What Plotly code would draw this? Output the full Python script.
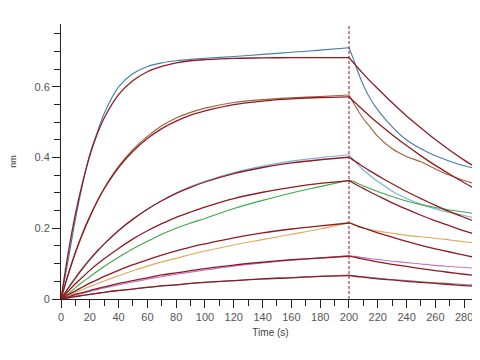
import plotly.graph_objects as go

# Time points (s)
t_assoc = [0, 5, 10, 15, 20, 25, 30, 40, 50, 60, 70, 80, 90, 100, 120, 140, 160, 180, 200]
t_diss = [203, 206, 210, 215, 220, 230, 240, 250, 260, 270, 280, 291]

# Measured (raw) curves, association then dissociation
data1 = [0, 0.11, 0.225, 0.325, 0.41, 0.47, 0.525, 0.60, 0.638, 0.658, 0.668, 0.674, 0.678, 0.681, 0.686, 0.692, 0.698, 0.704, 0.711,
         0.68, 0.645, 0.605, 0.565, 0.535, 0.487, 0.450, 0.425, 0.405, 0.39, 0.377, 0.366]
data2 = [0, 0.068, 0.13, 0.184, 0.232, 0.275, 0.313, 0.375, 0.423, 0.46, 0.49, 0.512, 0.528, 0.540, 0.556, 0.564, 0.569, 0.573, 0.577,
         0.555, 0.535, 0.51, 0.485, 0.46, 0.425, 0.403, 0.388, 0.368, 0.35, 0.335, 0.322]
data3 = [0, 0.03, 0.058, 0.085, 0.11, 0.133, 0.155, 0.193, 0.226, 0.254, 0.279, 0.300, 0.318, 0.333, 0.358, 0.376, 0.390, 0.400, 0.408,
         0.395, 0.381, 0.365, 0.348, 0.333, 0.305, 0.284, 0.268, 0.255, 0.245, 0.236, 0.226]
data4 = [0, 0.015, 0.032, 0.048, 0.063, 0.078, 0.092, 0.118, 0.142, 0.163, 0.183, 0.200, 0.215, 0.228, 0.256, 0.279, 0.300, 0.318, 0.336,
         0.333, 0.327, 0.32, 0.312, 0.304, 0.29, 0.277, 0.267, 0.259, 0.252, 0.246, 0.239]
data5 = [0, 0.009, 0.018, 0.027, 0.035, 0.043, 0.051, 0.066, 0.080, 0.093, 0.105, 0.115, 0.126, 0.136, 0.153, 0.168, 0.183, 0.198, 0.216,
         0.212, 0.206, 0.2, 0.196, 0.192, 0.186, 0.18, 0.176, 0.172, 0.167, 0.162, 0.157]
data6 = [0, 0.005, 0.011, 0.016, 0.021, 0.026, 0.031, 0.040, 0.048, 0.056, 0.063, 0.070, 0.076, 0.082, 0.093, 0.102, 0.110, 0.116, 0.123,
         0.121, 0.12, 0.117, 0.114, 0.112, 0.107, 0.103, 0.099, 0.095, 0.092, 0.089, 0.086]
data7 = [0, 0.003, 0.007, 0.010, 0.013, 0.016, 0.019, 0.024, 0.028, 0.033, 0.037, 0.040, 0.044, 0.047, 0.052, 0.057, 0.061, 0.064, 0.068,
         0.066, 0.065, 0.063, 0.061, 0.059, 0.055, 0.052, 0.049, 0.046, 0.044, 0.041, 0.039]

# Fitted curves
fit1 = [0, 0.13, 0.24, 0.33, 0.405, 0.465, 0.512, 0.578, 0.618, 0.643, 0.658, 0.668, 0.674, 0.677, 0.681, 0.682, 0.683, 0.683, 0.683,
        0.669, 0.655, 0.637, 0.615, 0.595, 0.555, 0.518, 0.484, 0.451, 0.421, 0.393, 0.365]
fit2 = [0, 0.070, 0.132, 0.186, 0.233, 0.275, 0.312, 0.372, 0.418, 0.454, 0.482, 0.503, 0.520, 0.532, 0.550, 0.560, 0.566, 0.570, 0.572,
        0.560, 0.549, 0.534, 0.515, 0.498, 0.465, 0.434, 0.405, 0.378, 0.353, 0.329, 0.305]
fit3 = [0, 0.031, 0.060, 0.087, 0.112, 0.135, 0.156, 0.194, 0.226, 0.254, 0.278, 0.299, 0.316, 0.331, 0.355, 0.372, 0.385, 0.394, 0.401,
        0.393, 0.385, 0.374, 0.361, 0.349, 0.326, 0.304, 0.284, 0.265, 0.247, 0.231, 0.214]
fit4 = [0, 0.022, 0.043, 0.062, 0.081, 0.098, 0.114, 0.143, 0.170, 0.193, 0.213, 0.231, 0.246, 0.260, 0.284, 0.302, 0.316, 0.327, 0.335,
        0.328, 0.321, 0.313, 0.302, 0.292, 0.272, 0.254, 0.237, 0.221, 0.207, 0.193, 0.179]
fit5 = [0, 0.012, 0.023, 0.034, 0.045, 0.054, 0.064, 0.081, 0.097, 0.111, 0.124, 0.136, 0.147, 0.156, 0.173, 0.187, 0.198, 0.207, 0.215,
        0.211, 0.206, 0.201, 0.194, 0.187, 0.175, 0.163, 0.152, 0.142, 0.133, 0.124, 0.115]
fit6 = [0, 0.006, 0.013, 0.018, 0.024, 0.029, 0.034, 0.044, 0.052, 0.060, 0.068, 0.074, 0.080, 0.086, 0.096, 0.104, 0.111, 0.116, 0.121,
        0.119, 0.116, 0.113, 0.109, 0.105, 0.098, 0.092, 0.086, 0.080, 0.075, 0.070, 0.065]
fit7 = [0, 0.003, 0.007, 0.010, 0.013, 0.016, 0.019, 0.024, 0.028, 0.033, 0.037, 0.040, 0.044, 0.047, 0.052, 0.057, 0.060, 0.064, 0.066,
        0.065, 0.063, 0.062, 0.059, 0.057, 0.054, 0.050, 0.047, 0.044, 0.041, 0.038, 0.035]

data_series = [data1, data2, data3, data4, data5, data6, data7]
fit_series = [fit1, fit2, fit3, fit4, fit5, fit6, fit7]
data_colors = ["#3f7fa8", "#9a6438", "#7fb0d4", "#3fa84a", "#e2a95a", "#c078c8", "#7a8c8c"]
fit_color = "#8e1b24"

x_tick_vals = list(range(0, 281, 20))
y_tick_vals = [0, 0.2, 0.4, 0.6]
y_tick_text = ["0", "0.2", "0.4", "0.6"]

n_a = len(t_assoc)
t_diss_full = [t_assoc[-1]] + t_diss


def add_curve(fig, vals, color, width):
    # association phase
    fig.add_trace(go.Scatter(x=t_assoc, y=vals[:n_a], mode="lines",
                             line=dict(color=color, width=width, shape="spline", smoothing=0.8),
                             showlegend=False))
    # dissociation phase
    fig.add_trace(go.Scatter(x=t_diss_full, y=vals[n_a - 1:], mode="lines",
                             line=dict(color=color, width=width, shape="spline", smoothing=0.8),
                             showlegend=False))


fig = go.Figure()
for vals, col in zip(data_series, data_colors):
    add_curve(fig, vals, col, 1.1)
for vals in fit_series:
    add_curve(fig, vals, fit_color, 1.3)

fig.add_shape(type="line", x0=200, x1=200, y0=0, y1=1, xref="x", yref="paper",
              line=dict(color="#8e1b24", width=1, dash="3px,2px"))

fig.update_layout(
    width=472, height=352,
    margin=dict(l=53, r=0, t=16, b=61, autoexpand=False),
    paper_bgcolor="white", plot_bgcolor="white",
    font=dict(family="Liberation Sans, Arial, sans-serif", color="#444444", size=11),
    xaxis=dict(range=[0, 291], tickvals=x_tick_vals, ticks="outside", ticklen=8,
               tickcolor="#222", showline=True, linecolor="#222", linewidth=1,
               showgrid=False, zeroline=False,
               minor=dict(dtick=10, tick0=0, ticks="outside", ticklen=6, tickcolor="#222", showgrid=False),
               title=dict(text="Time (s)", font=dict(size=10, color="#444"), standoff=6),
               tickfont=dict(size=11, color="#555")),
    yaxis=dict(range=[0, 0.778], tickvals=y_tick_vals, ticktext=y_tick_text,
               ticks="outside", ticklen=8, tickcolor="#222",
               showline=True, linecolor="#222", linewidth=1,
               showgrid=False, zeroline=False,
               minor=dict(dtick=0.05, tick0=0, ticks="outside", ticklen=6, tickcolor="#222", showgrid=False),
               title=dict(text="nm", font=dict(size=9, color="#444"), standoff=37),
               tickfont=dict(size=11, color="#555")),
)

fig.write_html("out.html")
